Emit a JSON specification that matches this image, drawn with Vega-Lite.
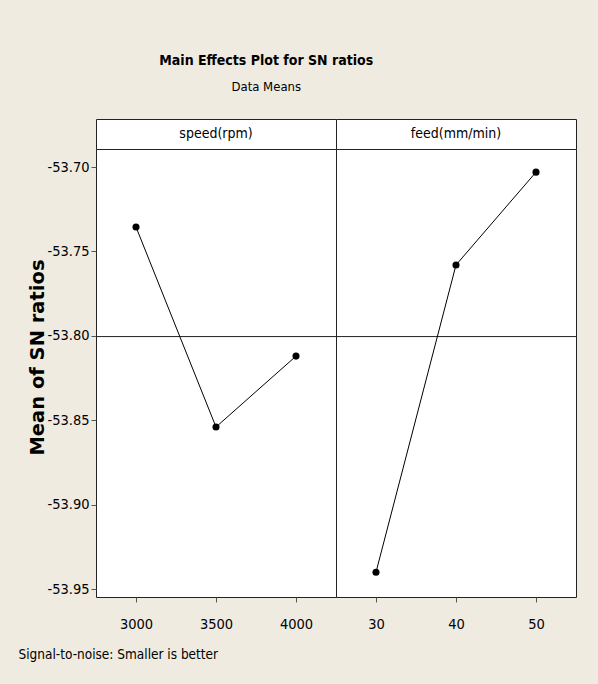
{
  "$schema": "https://vega.github.io/schema/vega-lite/v6.json",
  "background": "#efebe1",
  "padding": {"left": 17, "top": 53, "right": 22, "bottom": 30},
  "title": {
    "text": "Main Effects Plot for SN ratios",
    "subtitle": "Data Means",
    "anchor": "middle",
    "dx": -31,
    "font": "Liberation Sans Narrow, DejaVu Sans Condensed, DejaVu Sans",
    "fontSize": 14,
    "fontWeight": "bold",
    "color": "black",
    "subtitleFont": "Liberation Sans Narrow, DejaVu Sans Condensed, DejaVu Sans",
    "subtitleFontSize": 13,
    "subtitleColor": "black",
    "subtitlePadding": 13,
    "offset": 25
  },
  "data": {
    "values": [
      {"factor": "speed(rpm)", "level": 3000, "sn": -53.7355},
      {"factor": "speed(rpm)", "level": 3500, "sn": -53.854},
      {"factor": "speed(rpm)", "level": 4000, "sn": -53.812},
      {"factor": "feed(mm/min)", "level": 30, "sn": -53.940},
      {"factor": "feed(mm/min)", "level": 40, "sn": -53.758},
      {"factor": "feed(mm/min)", "level": 50, "sn": -53.703}
    ]
  },
  "columns": 2,
  "spacing": 0,
  "align": "each",
  "bounds": "flush",
  "concat": [
    {
      "width": 240,
      "height": 30,
      "view": {"fill": "white", "stroke": "#222", "strokeWidth": 1},
      "data": {"values": [{"label": "speed(rpm)"}]},
      "mark": {"type": "text", "font": "Liberation Sans Narrow, DejaVu Sans Condensed, DejaVu Sans", "fontSize": 14, "color": "black", "baseline": "middle"},
      "encoding": {"text": {"field": "label", "type": "nominal"}}
    },
    {
      "width": 240,
      "height": 30,
      "view": {"fill": "white", "stroke": "#222", "strokeWidth": 1},
      "data": {"values": [{"label": "feed(mm/min)"}]},
      "mark": {"type": "text", "font": "Liberation Sans Narrow, DejaVu Sans Condensed, DejaVu Sans", "fontSize": 14, "color": "black", "baseline": "middle"},
      "encoding": {"text": {"field": "label", "type": "nominal"}}
    },
    {
      "width": 240,
      "height": 448,
      "layer": [
        {
          "mark": {"type": "rule", "color": "#222", "strokeWidth": 1},
          "encoding": {
            "y": {
              "aggregate": "mean", "field": "sn", "type": "quantitative",
              "scale": {"domain": [-53.9547, -53.6893], "nice": false, "zero": false},
              "axis": {
                "title": "Mean of SN ratios", "values": [-53.70, -53.75, -53.80, -53.85, -53.90, -53.95],
                "format": ".2f", "labelExpr": "replace(datum.label, '\u2212', '-')",
                "grid": false, "domain": false, "tickSize": 5, "tickColor": "#555",
                "labelPadding": 2, "labelFont": "Liberation Sans Narrow, DejaVu Sans Condensed, DejaVu Sans", "labelFontSize": 14.5, "labelColor": "black",
                "titleFont": "DejaVu Sans", "titleFontWeight": "bold", "titleFontSize": 19.5, "titleColor": "black",
                "titleX": -59, "titleY": 208, "titleAlign": "center", "titleBaseline": "middle", "titleAngle": -90
              }
            }
          }
        },
        {
          "transform": [{"filter": "datum.factor === 'speed(rpm)'"}],
          "mark": {"type": "line", "color": "black", "strokeWidth": 1},
          "encoding": {
            "x": {
              "field": "level", "type": "quantitative",
              "scale": {"domain": [2750, 4250], "nice": false, "zero": false},
              "axis": {
                "values": [3000, 3500, 4000], "format": "d", "grid": false, "domain": false,
                "tickSize": 5, "tickColor": "#555", "labelPadding": 15,
                "labelFont": "Liberation Sans Narrow, DejaVu Sans Condensed, DejaVu Sans", "labelFontSize": 14.5, "labelColor": "black",
                "title": "Signal-to-noise: Smaller is better", "titleFont": "Liberation Sans Narrow, DejaVu Sans Condensed, DejaVu Sans",
                "titleFontSize": 13.5, "titleFontWeight": "normal", "titleColor": "black",
                "titleX": -78, "titleY": 61, "titleAlign": "left", "titleBaseline": "alphabetic"
              }
            },
            "y": {
              "field": "sn", "type": "quantitative",
              "scale": {"domain": [-53.9547, -53.6893], "nice": false, "zero": false},
              "axis": {
                "title": "Mean of SN ratios", "values": [-53.70, -53.75, -53.80, -53.85, -53.90, -53.95],
                "format": ".2f", "labelExpr": "replace(datum.label, '\u2212', '-')",
                "grid": false, "domain": false, "tickSize": 5, "tickColor": "#555",
                "labelPadding": 2, "labelFont": "Liberation Sans Narrow, DejaVu Sans Condensed, DejaVu Sans", "labelFontSize": 14.5, "labelColor": "black",
                "titleFont": "DejaVu Sans", "titleFontWeight": "bold", "titleFontSize": 19.5, "titleColor": "black",
                "titleX": -59, "titleY": 208, "titleAlign": "center", "titleBaseline": "middle", "titleAngle": -90
              }
            }
          }
        },
        {
          "transform": [{"filter": "datum.factor === 'speed(rpm)'"}],
          "mark": {"type": "point", "filled": true, "color": "black", "opacity": 1, "size": 50},
          "encoding": {
            "x": {
              "field": "level", "type": "quantitative",
              "scale": {"domain": [2750, 4250], "nice": false, "zero": false}
            },
            "y": {
              "field": "sn", "type": "quantitative",
              "scale": {"domain": [-53.9547, -53.6893], "nice": false, "zero": false}
            }
          }
        }
      ]
    },
    {
      "width": 240,
      "height": 448,
      "layer": [
        {
          "mark": {"type": "rule", "color": "#222", "strokeWidth": 1},
          "encoding": {
            "y": {
              "aggregate": "mean", "field": "sn", "type": "quantitative",
              "scale": {"domain": [-53.9547, -53.6893], "nice": false, "zero": false},
              "axis": null
            }
          }
        },
        {
          "transform": [{"filter": "datum.factor === 'feed(mm/min)'"}],
          "mark": {"type": "line", "color": "black", "strokeWidth": 1},
          "encoding": {
            "x": {
              "field": "level", "type": "quantitative",
              "scale": {"domain": [25, 55], "nice": false, "zero": false},
              "axis": {
                "values": [30, 40, 50], "format": "d", "grid": false, "domain": false,
                "tickSize": 5, "tickColor": "#555", "labelPadding": 15,
                "labelFont": "Liberation Sans Narrow, DejaVu Sans Condensed, DejaVu Sans", "labelFontSize": 14.5, "labelColor": "black",
                "title": null
              }
            },
            "y": {
              "field": "sn", "type": "quantitative",
              "scale": {"domain": [-53.9547, -53.6893], "nice": false, "zero": false},
              "axis": null
            }
          }
        },
        {
          "transform": [{"filter": "datum.factor === 'feed(mm/min)'"}],
          "mark": {"type": "point", "filled": true, "color": "black", "opacity": 1, "size": 50},
          "encoding": {
            "x": {
              "field": "level", "type": "quantitative",
              "scale": {"domain": [25, 55], "nice": false, "zero": false}
            },
            "y": {
              "field": "sn", "type": "quantitative",
              "scale": {"domain": [-53.9547, -53.6893], "nice": false, "zero": false},
              "axis": null
            }
          }
        }
      ]
    }
  ],
  "config": {
    "view": {"fill": "white", "stroke": "#222", "strokeWidth": 1},
    "concat": {"spacing": 0}
  }
}
